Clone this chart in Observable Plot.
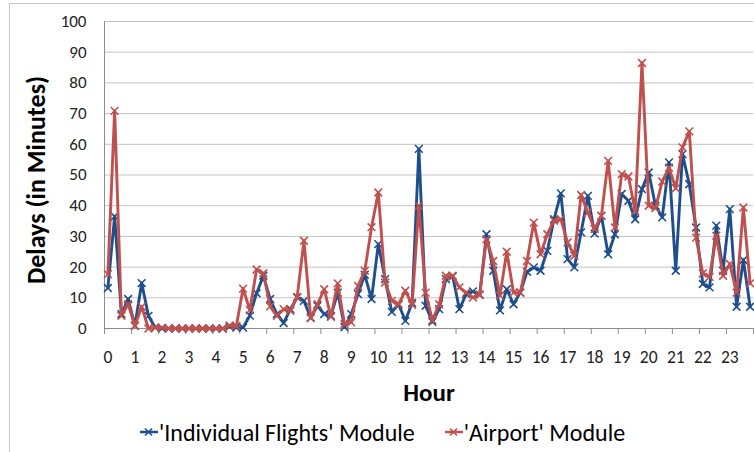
<!DOCTYPE html>
<html>
<head>
<meta charset="utf-8">
<script src="https://cdn.jsdelivr.net/npm/d3@7"></script>
<script src="https://cdn.jsdelivr.net/npm/@observablehq/plot@0.6"></script>
<style>
  body { margin: 0; background: #fff; }
  #wrap { position: relative; width: 754px; height: 452px; overflow: hidden; font-family: Carlito, Calibri, Lato, sans-serif; }
  #frame { position: absolute; left: 9px; top: 3px; width: 800px; height: 500px; border: 1px solid #c6c6c6; box-sizing: border-box; }
  #chart { position: absolute; left: 0; top: 0; }
  #legend { position: absolute; left: 140px; top: 414px; height: 36px; display: flex; align-items: center; font-size: 24px; color: #000; white-space: nowrap; }
  .item { display: flex; align-items: center; margin-right: 30px; }
  .item svg { margin-right: 1px; }
</style>
</head>
<body>
<div id="wrap">
  <div id="frame"></div>
  <div id="chart"></div>
  <div id="legend"></div>
</div>
<script>
// Average delay per quarter hour (96 slots, 00:00 to 23:45), eight slots per row
const individualFlights = [
  13.2, 36.5, 4.7, 9.6, 0.9, 14.8, 4.1, 0.3,
  0, 0, 0, 0, 0, 0, 0, 0,
  0, 0, 0.6, 0.3, 0.3, 4.2, 11.5, 17.2,
  9.6, 4.7, 1.8, 6.3, 10.1, 9, 3.5, 7.4,
  4.7, 4.1, 11.7, 0.5, 4.7, 11.2, 17.5, 9.6,
  27.5, 16.1, 5.4, 7.9, 2.5, 8.3, 58.5, 7.4,
  2.2, 6.3, 16.1, 17, 6.3, 11.2, 12.1, 11,
  30.7, 18.8, 5.9, 12.8, 7.9, 11.7, 18.5, 19.9,
  18.8, 25.3, 35.6, 44, 22.6, 19.9, 31.3, 43.2,
  30.9, 36.7, 24.2, 30.7, 43.8, 41.6, 35.6, 45.4,
  50.8, 40, 36.2, 54.1, 18.8, 56.8, 47, 32.9,
  14.5, 13.4, 33.5, 18.8, 38.9, 7.1, 22.3, 7.1
];
const airport = [
  17.7, 70.9, 4.1, 7.9, 0.9, 7.1, 0, 0.3,
  0.3, 0, 0, 0, 0, 0, 0, 0,
  0, 0, 1, 0.8, 13, 6, 19.2, 18,
  7.2, 4.1, 6.3, 5.8, 10.3, 28.6, 3.4, 7.9,
  12.8, 3.8, 14.7, 1.4, 2, 13.9, 18.8, 33,
  44.3, 15, 9, 7.9, 12.3, 7.7, 40, 11.7,
  2.7, 7.9, 17.2, 17.2, 13.4, 11.7, 10.1, 11,
  29.1, 22, 10.7, 25, 11.7, 11.7, 22, 34.5,
  24.2, 30.7, 35.1, 35.6, 28, 23.7, 43.5, 37.8,
  32.4, 36.7, 54.6, 32.9, 50.3, 49.5, 38.3, 86.5,
  40, 39.2, 47.9, 52.4, 45.7, 59, 64.2, 29.6,
  17.9, 16.8, 30.2, 17.2, 21, 11.7, 39.4, 14.7
];
const hourLabels = d3.range(24).map(String);
const yTicks = d3.range(0, 101, 10);
const seriesNames = ["'Individual Flights' Module", "'Airport' Module"];
const colors = ["#1f4e8c", "#c0504d"];

const font = "Carlito, Calibri, Lato, sans-serif";
// quarter-hour slot i sits at hour i/4; each slot is a quarter-hour wide band
const hourOf = (d, i) => i / 4;
const bandEdges = d3.range(25).map(k => k - 0.125);

function series(values, color) {
  return [
    Plot.lineY(values, {x: hourOf, y: d => d, stroke: color, strokeWidth: 2.9, strokeLinejoin: "round"}),
    Plot.dot(values, {x: hourOf, y: d => d, symbol: "times", r: 3.6, stroke: color, strokeWidth: 1.6})
  ];
}

const chart = Plot.plot({
  width: 754,
  height: 412,
  marginLeft: 104,
  marginRight: 1,
  marginTop: 21,
  marginBottom: 84,
  style: {fontFamily: font, fontSize: "17px", color: "#222", background: "transparent", overflow: "visible"},
  x: {domain: [-0.125, 23.875], axis: null},
  y: {domain: [0, 100], axis: null},
  marks: [
    Plot.gridY(yTicks, {stroke: "#c2c2c2", strokeOpacity: 1}),
    Plot.axisY(yTicks, {tickSize: 0, tickPadding: 18, fontSize: 17, label: null}),
    Plot.axisX(bandEdges, {tickSize: 6, tickFormat: () => "", stroke: "#8c8c8c", label: null}),
    Plot.axisX(d3.range(24), {tickSize: 0, tickPadding: 22, tickFormat: d => hourLabels[d], fontSize: 17.5, label: null}),
    Plot.ruleX([-0.125], {stroke: "#8c8c8c"}),
    Plot.ruleY([0], {stroke: "#8c8c8c"}),
    ...series(individualFlights, colors[0]),
    ...series(airport, colors[1]),
    Plot.text(["Hour"], {text: d => d, frameAnchor: "bottom", dy: 64, textAnchor: "middle", lineAnchor: "middle", fontSize: 25, fontWeight: "bold", fill: "#000"}),
    Plot.text(["Delays (in Minutes)"], {text: d => d, frameAnchor: "left", dx: -68, dy: 5, rotate: -90, textAnchor: "middle", lineAnchor: "middle", fontSize: 26, fontWeight: "bold", fill: "#000"})
  ]
});
document.getElementById("chart").append(chart);

// legend: line swatch with the series marker, then the series name
const legend = d3.select("#legend");
seriesNames.forEach((name, k) => {
  const item = legend.append("div").attr("class", "item");
  const sw = item.append("svg").attr("width", 18).attr("height", 12);
  sw.append("line").attr("x1", 0).attr("x2", 18).attr("y1", 6).attr("y2", 6)
    .attr("stroke", colors[k]).attr("stroke-width", 2.5);
  sw.append("path").attr("d", "M5,2.5L12,9.5M12,2.5L5,9.5")
    .attr("stroke", colors[k]).attr("stroke-width", 1.6);
  item.append("span").text(name);
});
</script>
</body>
</html>
